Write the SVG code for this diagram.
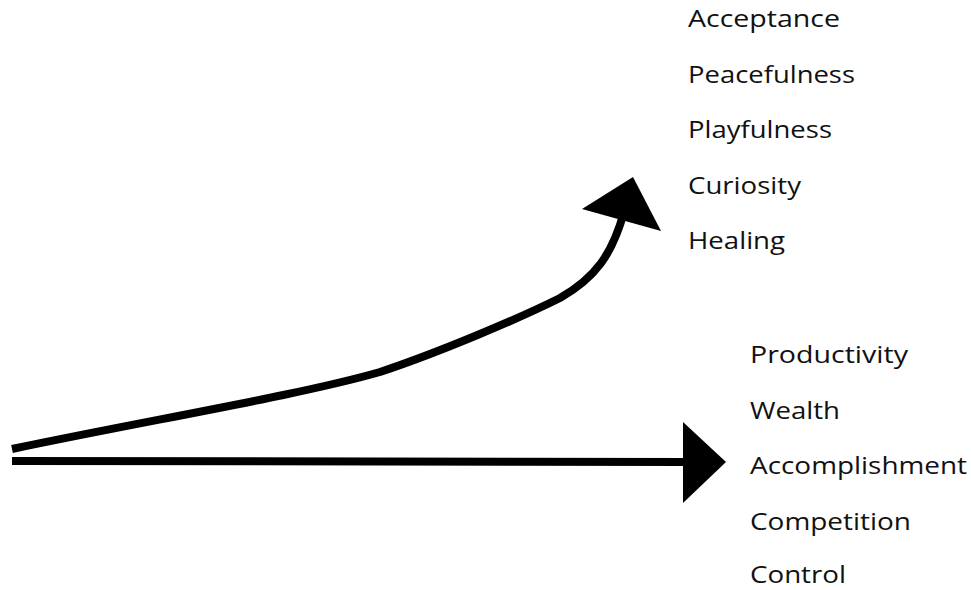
<svg xmlns="http://www.w3.org/2000/svg" width="971" height="590" viewBox="0 0 971 590">
  <style>
    .lbl { font-family: "Open Sans", "Liberation Sans", sans-serif; font-size: 23px; font-weight: 500; fill: #111; }
    .wire { fill: none; stroke: #000; stroke-width: 8; }
    .head { fill: #000; }
  </style>
  <rect width="971" height="590" fill="#fff"/>
  <g id="connectors">
    <!-- rising curve -->
    <path class="wire" d="M12,449 C150,420 300,395 380,372 C440,352 520,318 560,298 C595,278 612,255 624,212"/>
    <polygon class="head" points="582,209 633,177 661,231"/>
    <!-- straight arrow -->
    <path class="wire" d="M12,461 L690,462"/>
    <polygon class="head" points="683,422 683,503 726,462"/>
  </g>
  <g id="upper-values">
    <text class="lbl" x="688" y="27" textLength="152" lengthAdjust="spacingAndGlyphs">Acceptance</text>
    <text class="lbl" x="688" y="82.5" textLength="167" lengthAdjust="spacingAndGlyphs">Peacefulness</text>
    <text class="lbl" x="688" y="138" textLength="144" lengthAdjust="spacingAndGlyphs">Playfulness</text>
    <text class="lbl" x="688" y="193.5" textLength="113" lengthAdjust="spacingAndGlyphs">Curiosity</text>
    <text class="lbl" x="688" y="249" textLength="97" lengthAdjust="spacingAndGlyphs">Healing</text>
  </g>
  <g id="lower-values">
    <text class="lbl" x="750" y="363" textLength="158" lengthAdjust="spacingAndGlyphs">Productivity</text>
    <text class="lbl" x="750" y="418.5" textLength="90" lengthAdjust="spacingAndGlyphs">Wealth</text>
    <text class="lbl" x="750" y="474" textLength="217" lengthAdjust="spacingAndGlyphs">Accomplishment</text>
    <text class="lbl" x="750" y="529.5" textLength="161" lengthAdjust="spacingAndGlyphs">Competition</text>
    <text class="lbl" x="750" y="583" textLength="96" lengthAdjust="spacingAndGlyphs">Control</text>
  </g>
</svg>
